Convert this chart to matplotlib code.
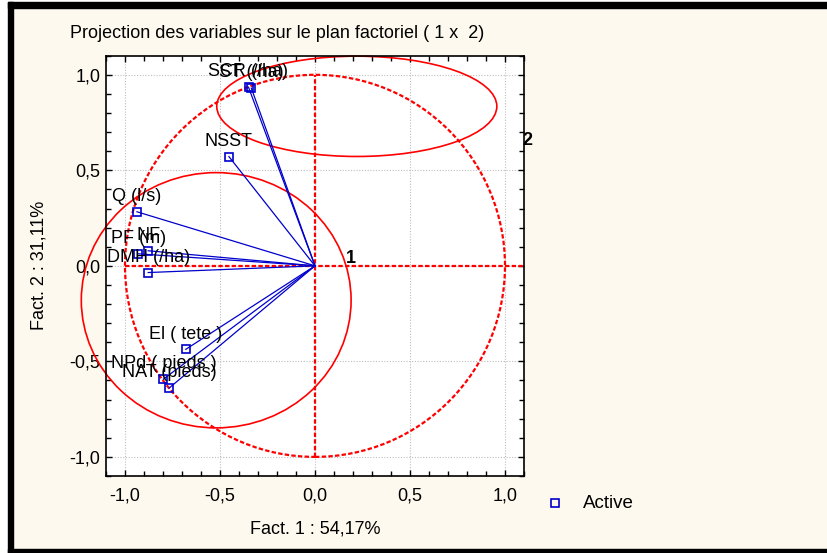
import matplotlib
matplotlib.use("Agg")
import matplotlib.pyplot as plt
from matplotlib.patches import Ellipse, Circle, Rectangle
from matplotlib.ticker import MultipleLocator, FuncFormatter

plt.rcParams['font.family'] = ['Liberation Sans', 'DejaVu Sans']

# Variable coordinates on factors 1 and 2
var_names = ["SCR (/ha)", "ST (/ha)", "NSST", "Q (l/s)", "PF (m)", "NF",
             "DMH (/ha)", "El ( tete )", "NPd ( pieds )", "NAT (pieds)"]
fact1 = [-0.350, -0.335, -0.453, -0.937, -0.930, -0.878, -0.878, -0.680, -0.798, -0.767]
fact2 = [0.935, 0.930, 0.572, 0.283, 0.063, 0.079, -0.035, -0.437, -0.593, -0.639]

# Group ellipses: centre, size, and label position
group_names = ["1", "2"]
group_cx = [-0.52, 0.22]
group_cy = [-0.18, 0.835]
group_w = [1.42, 1.474]
group_h = [1.336, 0.525]
group_lx = [0.19, 1.116]
group_ly = [0.037, 0.656]

cream = '#FDF9EE'
blue = '#0000CC'
red = '#FF0000'
fs = 13

fig = plt.figure(figsize=(8.28, 5.53), dpi=100, facecolor=cream)
W, H = 828, 553

# frame bands around the figure
def px_rect(x0, y0, x1, y1, color):
    fig.patches.append(Rectangle((x0 / W, 1 - y1 / H), (x1 - x0) / W, (y1 - y0) / H,
                                 transform=fig.transFigure, color=color, zorder=0))

px_rect(0, 0, W, 2, 'white')
px_rect(0, 0, 8, H, 'white')
px_rect(8, 2, W, 8, 'black')
px_rect(8, 2, 13, H, 'black')
px_rect(8, 549, W, H, 'black')

ax = fig.add_axes([106 / W, 1 - 476 / H, (524 - 106) / W, (476 - 55.7) / H])
ax.set_facecolor('white')
ax.set_xlim(-1.1, 1.1)
ax.set_ylim(-1.1, 1.1)

ax.xaxis.set_major_locator(MultipleLocator(0.5))
ax.yaxis.set_major_locator(MultipleLocator(0.5))
ax.xaxis.set_minor_locator(MultipleLocator(0.1))
ax.yaxis.set_minor_locator(MultipleLocator(0.1))
fmt = FuncFormatter(lambda v, p: f"{v:.1f}".replace('.', ',').replace('-0,0', '0,0'))
ax.xaxis.set_major_formatter(fmt)
ax.yaxis.set_major_formatter(fmt)
ax.tick_params(which='both', direction='in', top=True, right=True, width=1, colors='black',
               labelsize=fs)
ax.tick_params(which='major', length=4.5)
ax.tick_params(which='minor', length=3.5)
ax.tick_params(axis='x', which='major', pad=8)
ax.tick_params(axis='y', which='major', pad=4)
ax.grid(True, which='major', color='#BDBDBD', linestyle=(0, (1, 1.5)), linewidth=0.8)
for s in ax.spines.values():
    s.set_linewidth(1.2)

# unit circle and axes cross
ax.add_patch(Circle((0, 0), 1.0, fill=False, edgecolor=red, linestyle=(0, (2, 1)),
                    linewidth=1.6, zorder=2))
ax.plot([-1.0, 1.1], [0, 0], color=red, linestyle=(0, (2, 1)), linewidth=1.6, zorder=2)
ax.plot([0, 0], [-1.0, 1.0], color=red, linestyle=(0, (2, 1)), linewidth=1.6, zorder=2)

# group ellipses
for name, cx, cy, w, h, lx, ly in zip(group_names, group_cx, group_cy, group_w, group_h,
                                      group_lx, group_ly):
    ax.add_patch(Ellipse((cx, cy), w, h, fill=False, edgecolor=red, linewidth=1.2,
                         clip_on=False, zorder=2))
    ax.text(lx, ly, name, fontsize=fs, fontweight='bold', ha='center', va='center',
            clip_on=False, zorder=4)

# variable vectors
for name, x, y in zip(var_names, fact1, fact2):
    ax.plot([0, x], [0, y], color=blue, linewidth=0.9, zorder=3)
    ax.annotate(name, (x, y), xytext=(0, 11), textcoords='offset points',
                ha='center', va='center', fontsize=fs, zorder=5)
ax.plot(fact1, fact2, linestyle='none', marker='s', markersize=5.5, markerfacecolor='none',
        markeredgecolor=blue, markeredgewidth=1.2, zorder=4)

ax.set_xlabel("Fact. 1 : 54,17%", fontsize=fs, labelpad=12)
ax.set_ylabel("Fact. 2 : 31,11%", fontsize=fs, labelpad=16)

fig.text(70 / W, 1 - 33 / H, "Projection des variables sur le plan factoriel ( 1 x  2)",
         fontsize=fs, ha='left', va='center')

# legend entry
fig.lines.append(plt.Line2D([555 / W], [1 - 503 / H], transform=fig.transFigure,
                            marker='s', markersize=5.5, markerfacecolor='none',
                            markeredgecolor=blue, markeredgewidth=1.2, linestyle='none'))
fig.text(583 / W, 1 - 503 / H, "Active", fontsize=13.5, ha='left', va='center')

fig.savefig("out.png", dpi=100, facecolor=cream)
